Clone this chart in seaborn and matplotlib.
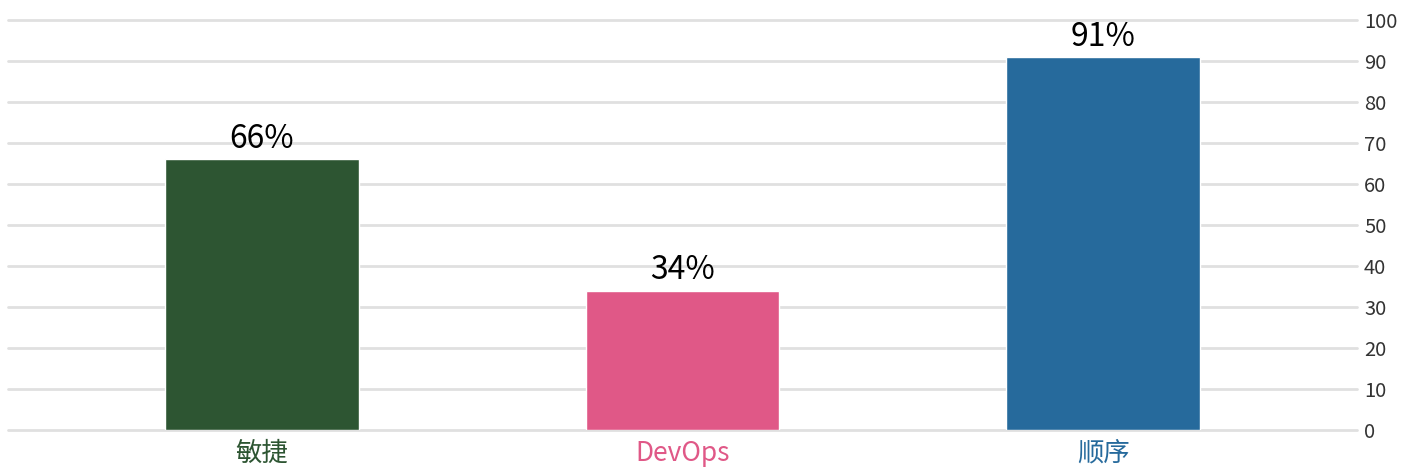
import matplotlib
matplotlib.use("Agg")
import matplotlib.pyplot as plt
import seaborn as sns
import pandas as pd

# Data
categories = ['敏捷', 'DevOps', '顺序']
values = [66, 34, 91]
colors = ['#2d5532', '#e05887', '#266a9c']
y_ticks = [0, 10, 20, 30, 40, 50, 60, 70, 80, 90, 100]

sns.set_style('white')
plt.rcParams['font.family'] = ['Noto Sans CJK SC', 'DejaVu Sans']

df = pd.DataFrame({'category': categories, 'value': values})

fig = plt.figure(figsize=(14.02, 4.68), dpi=100)
ax = fig.add_axes([0.0057, 0.0812, 0.9623, 0.8761])

sns.barplot(data=df, x='category', y='value', hue='category',
            palette=colors, width=0.46, legend=False, ax=ax, saturation=1)

ax.set_xlim(-0.604, 2.604)
ax.set_ylim(0, 100)
ax.set_yticks(y_ticks)
ax.yaxis.tick_right()
ax.grid(axis='y', color='#e0e0e0', linewidth=2)
ax.set_axisbelow(True)
for line in ax.get_ygridlines():
    line.set_clip_on(False)
for s in ax.spines.values():
    s.set_visible(False)
ax.tick_params(axis='y', length=0, pad=5, labelsize=14.5, labelcolor='#333333')
ax.tick_params(axis='x', length=0, pad=7, labelsize=19)
for lbl, c in zip(ax.get_xticklabels(), colors):
    lbl.set_color(c)
ax.set_xlabel('')
ax.set_ylabel('')

# Value labels above bars
for i, v in enumerate(values):
    ax.text(i, v + 1.0, f'{v}%', ha='center', va='bottom', fontsize=23, color='black')

fig.savefig('out.png', dpi=100)
